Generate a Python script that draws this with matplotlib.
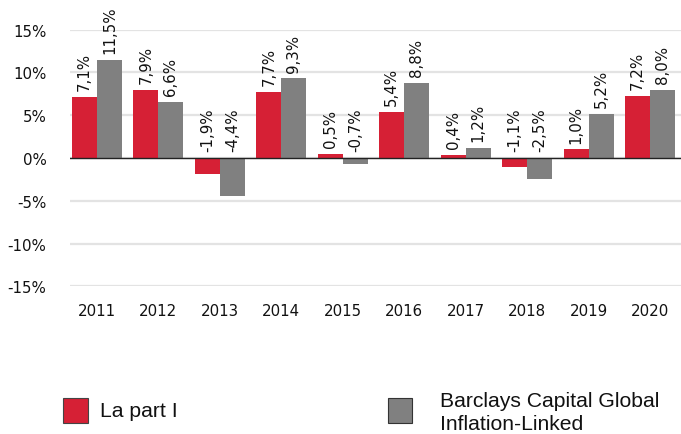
import matplotlib
matplotlib.use("Agg")
import matplotlib.pyplot as plt
from matplotlib.patches import Rectangle
import numpy as np

years = ["2011", "2012", "2013", "2014", "2015", "2016", "2017", "2018", "2019", "2020"]
part_i = [7.1, 7.9, -1.9, 7.7, 0.5, 5.4, 0.4, -1.1, 1.0, 7.2]
barclays = [11.5, 6.6, -4.4, 9.3, -0.7, 8.8, 1.2, -2.5, 5.2, 8.0]
series_names = ["La part I", "Barclays Capital Global\nInflation-Linked"]
yticks = [-15, -10, -5, 0, 5, 10, 15]

RED = "#d62035"
GRAY = "#808080"
FS = 10.8

plt.rcParams["font.family"] = ["DejaVu Sans"]
fig = plt.figure(figsize=(6.81, 4.35), dpi=100)
W, H = 681, 435
ax = fig.add_axes([70 / W, 1 - 287.3 / H, (W - 70) / W, (287.3 - 30.7) / H])

x = np.arange(len(years))
bw = 0.407
b1 = ax.bar(x - bw / 2, part_i, bw, color=RED, zorder=3)
b2 = ax.bar(x + bw / 2, barclays, bw, color=GRAY, zorder=3)

for bars, vals in ((b1, part_i), (b2, barclays)):
    for rect, v in zip(bars, vals):
        cx = rect.get_x() + rect.get_width() / 2
        ax.annotate(f"{v:.1f}%".replace(".", ","), xy=(cx, max(v, 0)),
                    xytext=(0, 5), textcoords="offset points",
                    rotation=90, ha="center", va="bottom", fontsize=FS,
                    color="#111111", zorder=5)

ax.set_xlim(-0.44, 9.505)
ax.set_ylim(-15, 15)
ax.set_yticks(yticks)
ax.set_yticklabels([f"{t}%" for t in yticks], fontsize=FS, color="#111111")
ax.set_xticks(x)
ax.set_xticklabels(years, fontsize=FS, color="#111111")
ax.tick_params(axis="both", length=0)
ax.tick_params(axis="x", pad=12)
ax.tick_params(axis="y", pad=17)
for s in ax.spines.values():
    s.set_visible(False)
ax.yaxis.grid(True, color="#e3e3e3", linewidth=1.6, zorder=0)
ax.set_axisbelow(True)
ax.axhline(0, color="#222222", linewidth=1.0, zorder=4)

# Legend (manual)
lfs = 15.2
fig.patches.append(Rectangle((62.5 / W, 1 - 423.5 / H), 25 / W, 24.5 / H, transform=fig.transFigure,
                             facecolor=RED, edgecolor="#444444", linewidth=0.8))
fig.text(100 / W, 1 - 412 / H, series_names[0], fontsize=lfs, family="Liberation Sans",
         va="center", ha="left", color="#111111")
fig.patches.append(Rectangle((387.5 / W, 1 - 423.5 / H), 25 / W, 24.5 / H, transform=fig.transFigure,
                             facecolor=GRAY, edgecolor="#333333", linewidth=0.8))
fig.text(440 / W, 1 - 413 / H, series_names[1], fontsize=lfs, family="Liberation Sans",
         va="center", ha="left", color="#111111", linespacing=1.28)

fig.savefig("out.png", dpi=100)
